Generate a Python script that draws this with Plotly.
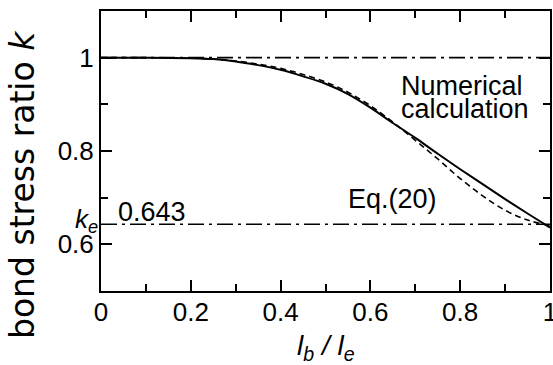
import plotly.graph_objects as go

# data
x_ratio = [0, 0.1, 0.2, 0.25, 0.3, 0.35, 0.4, 0.45, 0.5, 0.55, 0.6, 0.65, 0.7,
           0.75, 0.8, 0.85, 0.9, 0.95, 1.0]
k_numerical = [1.0, 1.0, 0.999, 0.997, 0.992, 0.984, 0.974, 0.960, 0.944, 0.922,
               0.893, 0.860, 0.828, 0.794, 0.761, 0.729, 0.697, 0.666, 0.636]
k_eq20 = [1.0, 1.0, 0.999, 0.997, 0.993, 0.986, 0.977, 0.964, 0.948, 0.926,
          0.897, 0.862, 0.823, 0.783, 0.741, 0.704, 0.673, 0.652, 0.640]
k_upper = 1.0
k_e = 0.643
x_ticks = [0, 0.2, 0.4, 0.6, 0.8, 1]
x_tick_text = ["0", "0.2", "0.4", "0.6", "0.8", "1"]
y_ticks = [0.6, 0.8, 1.0]
y_tick_text = ["0.6", "0.8", "1"]

FONT = "Liberation Sans, Arial, sans-serif"

fig = go.Figure()
fig.add_trace(go.Scatter(x=[0, 1], y=[k_upper, k_upper], mode="lines",
                         line=dict(color="black", width=1.6, dash="16px,5px,3px,5px"),
                         showlegend=False, hoverinfo="skip"))
fig.add_trace(go.Scatter(x=[0, 1], y=[k_e, k_e], mode="lines",
                         line=dict(color="black", width=1.6, dash="16px,5px,3px,5px"),
                         showlegend=False, hoverinfo="skip"))
fig.add_trace(go.Scatter(x=x_ratio, y=k_eq20, mode="lines",
                         line=dict(color="black", width=1.6, dash="6px,4px", shape="spline"),
                         name="Eq.(20)", showlegend=False))
fig.add_trace(go.Scatter(x=x_ratio, y=k_numerical, mode="lines",
                         line=dict(color="black", width=2, shape="spline"),
                         name="Numerical calculation", showlegend=False))

axis_common = dict(
    showline=True, linecolor="black", linewidth=2, mirror="allticks",
    ticks="inside", ticklen=11, tickwidth=1.6, tickcolor="black",
    showgrid=False, zeroline=False, automargin=False,
    ticklabeloverflow="allow",
    tickfont=dict(family=FONT, size=26, color="black"),
)

fig.update_xaxes(range=[0, 1], tickvals=x_ticks, ticktext=x_tick_text,
                 ticklabelstandoff=-3,
                 minor=dict(dtick=0.1, ticks="inside", ticklen=7, tickwidth=1.6,
                            tickcolor="black", showgrid=False),
                 **axis_common)
fig.update_yaxes(range=[0.5, 1.1], tickvals=y_ticks, ticktext=y_tick_text,
                 minor=dict(tickvals=[0.5, 0.7, 0.9, 1.1], ticks="inside", ticklen=7,
                            tickwidth=1.6, tickcolor="black", showgrid=False),
                 **axis_common)

ann_font = dict(family=FONT, size=27, color="black")
annotations = [
    dict(text="Numerical", x=0.805, y=0.939, xref="x", yref="y", showarrow=False,
         font=ann_font, xanchor="center", yanchor="middle"),
    dict(text="calculation", x=0.81, y=0.889, xref="x", yref="y", showarrow=False,
         font=ann_font, xanchor="center", yanchor="middle"),
    dict(text="Eq.(20)", x=0.65, y=0.697, xref="x", yref="y", showarrow=False,
         font=ann_font, xanchor="center", yanchor="middle"),
    dict(text="0.643", x=0.114, y=0.67, xref="x", yref="y", showarrow=False,
         font=ann_font, xanchor="center", yanchor="middle"),
    dict(text="<i>k</i><sub><i>e</i></sub>", x=-0.033, y=0.252, xref="paper", yref="paper",
         showarrow=False, font=dict(family=FONT, size=26, color="black"),
         xanchor="center", yanchor="middle"),
    dict(text="bond stress ratio <i>k</i>", x=-0.176, y=0.382, xref="paper", yref="paper",
         showarrow=False, textangle=-90,
         font=dict(family="DejaVu Sans, sans-serif", size=33, color="black"),
         xanchor="center", yanchor="middle"),
    dict(text="<i>l</i><sub><i>b</i></sub><i> / l</i><sub><i>e</i></sub>",
         x=0.5, y=-0.203, xref="paper", yref="paper", showarrow=False,
         font=dict(family=FONT, size=28, color="black"),
         xanchor="center", yanchor="middle"),
]

fig.update_layout(
    width=553, height=365,
    margin=dict(l=101, r=3, t=11, b=74),
    plot_bgcolor="white", paper_bgcolor="white",
    annotations=annotations,
    showlegend=False,
)

# remove the default page margin so the figure fills the window exactly
fig.write_html(
    "out.html",
    config={"displayModeBar": False},
    post_script=(
        "document.body.style.margin='0';"
        "document.body.style.padding='0';"
        "document.body.style.overflow='hidden';"
        "document.documentElement.style.overflow='hidden';"
    ),
)
